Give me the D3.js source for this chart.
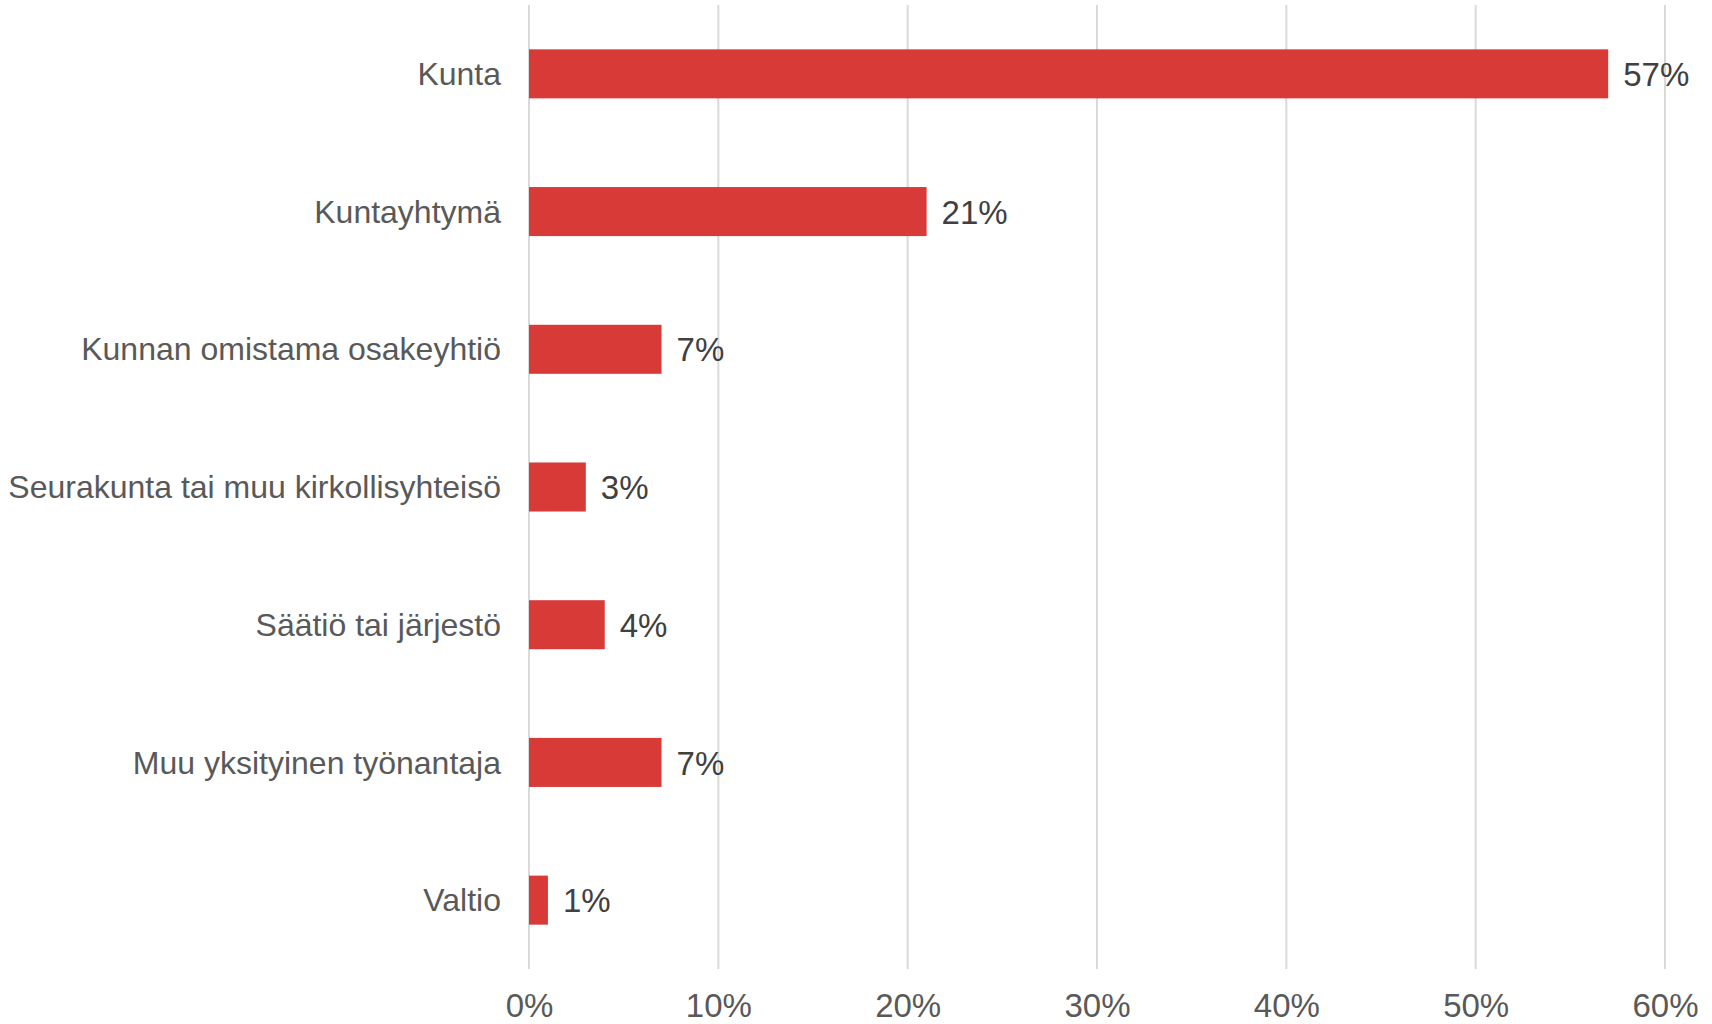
<!DOCTYPE html>
<html>
<head>
<meta charset="utf-8">
<script src="https://cdn.jsdelivr.net/npm/d3@7"></script>
<style>
  body { margin: 0; background: #fff; }
  svg { display: block; font-family: "Liberation Sans", Arial, sans-serif; }
</style>
</head>
<body>
<div id="chart"></div>
<script>
// categories and values (percent)
var categories = ['Kunta', 'Kuntayhtymä', 'Kunnan omistama osakeyhtiö',
    'Seurakunta tai muu kirkollisyhteisö', 'Säätiö tai järjestö',
    'Muu yksityinen työnantaja', 'Valtio'];
var values = [57, 21, 7, 3, 4, 7, 1];
var ticks = [0, 10, 20, 30, 40, 50, 60];

var width = 1712, height = 1024;
var margin = {top: 5, right: 47, bottom: 55, left: 529};

var svg = d3.select('#chart').append('svg')
    .attr('width', width)
    .attr('height', height);

//scales
var x = d3.scaleLinear()
    .domain([0, 60])
    .range([margin.left, width - margin.right]);

var y = d3.scaleBand()
    .domain(categories)
    .range([margin.top, height - margin.bottom])
    .paddingInner(0.644)
    .paddingOuter(0.322);

//vertical gridlines
svg.append('g')
    .selectAll('line')
    .data(ticks)
    .enter()
    .append('line')
    .attr('x1', function (d) { return x(d); })
    .attr('x2', function (d) { return x(d); })
    .attr('y1', margin.top)
    .attr('y2', height - margin.bottom)
    .attr('stroke', '#d9d9d9')
    .attr('stroke-width', 2);

//x axis tick labels
var xAxis = d3.axisBottom(x)
    .tickValues(ticks)
    .tickSize(0)
    .tickPadding(0)
    .tickFormat(function (d) { return d + '%'; });

var gx = svg.append('g')
    .attr('transform', 'translate(0,' + (height - margin.bottom) + ')')
    .call(xAxis);
gx.select('.domain').remove();
gx.selectAll('text')
    .attr('y', 48)
    .attr('dy', 0)
    .attr('fill', '#595959')
    .style('font-size', '33px')
    .style('font-family', '"Liberation Sans", Arial, sans-serif');

//bars
svg.append('g')
    .selectAll('rect')
    .data(values)
    .enter()
    .append('rect')
    .attr('x', x(0))
    .attr('y', function (d, i) { return y(categories[i]); })
    .attr('width', function (d) { return x(d) - x(0); })
    .attr('height', y.bandwidth())
    .attr('fill', '#d73a37');

//category labels
svg.append('g')
    .selectAll('text')
    .data(categories)
    .enter()
    .append('text')
    .attr('x', margin.left - 28)
    .attr('y', function (d) { return y(d) + y.bandwidth() / 2; })
    .attr('dy', '0.35em')
    .attr('text-anchor', 'end')
    .attr('fill', '#595959')
    .style('font-size', '32px')
    .text(function (d) { return d; });

//value labels
svg.append('g')
    .selectAll('text')
    .data(values)
    .enter()
    .append('text')
    .attr('x', function (d) { return x(d) + 15; })
    .attr('y', function (d, i) { return y(categories[i]) + y.bandwidth() / 2; })
    .attr('dy', '0.37em')
    .attr('fill', '#404040')
    .style('font-size', '33px')
    .text(function (d) { return d + '%'; });
</script>
</body>
</html>
